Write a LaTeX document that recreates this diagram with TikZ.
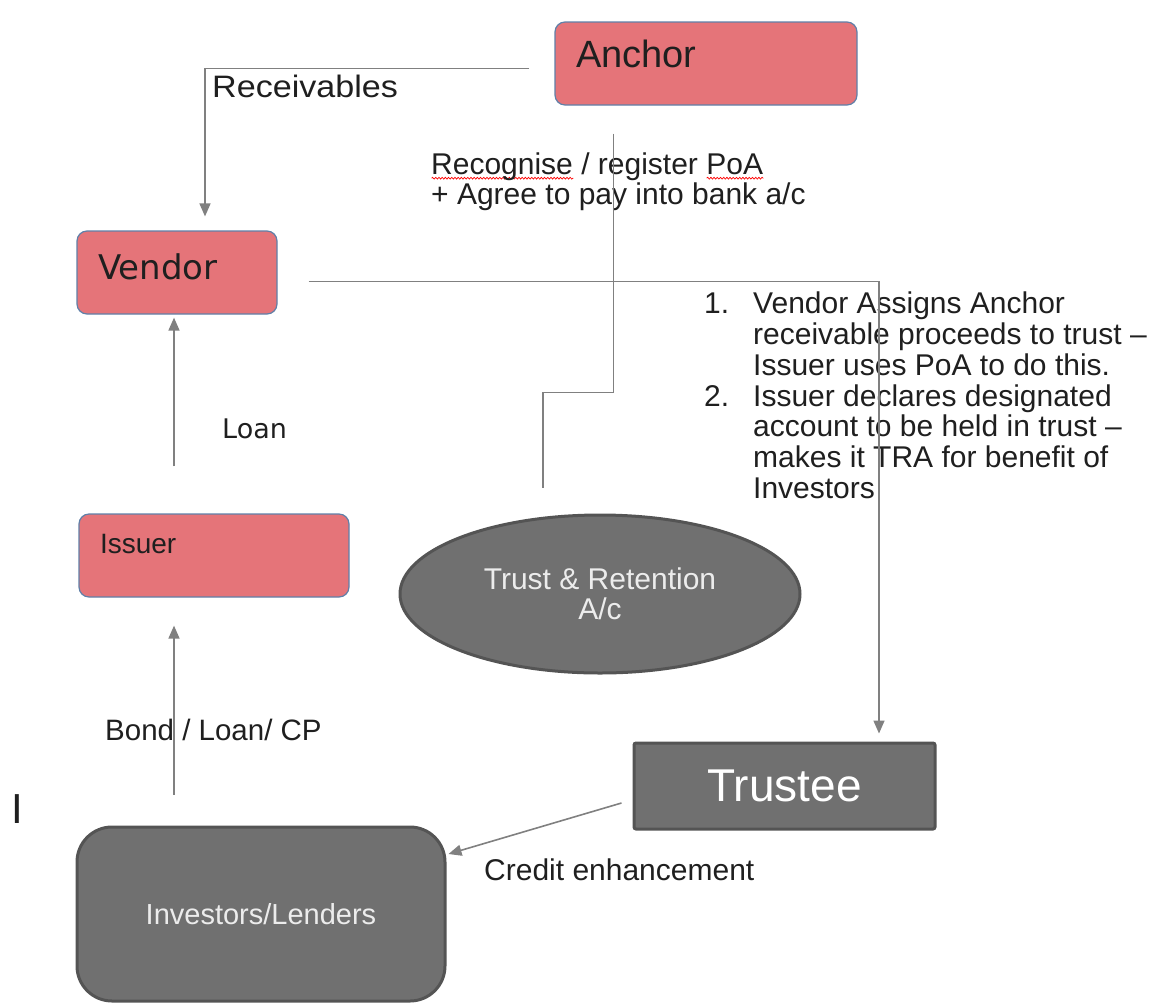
\documentclass[tikz,border=0pt]{standalone}
\usepackage{fontspec}
\setmainfont{Liberation Sans}
\newfontfamily\verdanafont{DejaVu Sans}
\newfontfamily\widesf[FakeStretch=1.1]{Liberation Sans}
\usetikzlibrary{arrows.meta,shapes.geometric,decorations.pathmorphing}
\definecolor{boxpink}{RGB}{229,116,121}
\definecolor{boxedge}{RGB}{96,128,168}
\definecolor{boxgray}{RGB}{112,112,112}
\definecolor{grayedge}{RGB}{84,84,84}
\definecolor{linkgray}{RGB}{128,128,128}
\definecolor{paletext}{RGB}{236,236,236}
\newsavebox{\wavebox}
\newcommand{\spellwave}[1]{\sbox{\wavebox}{#1}\rlap{\raisebox{-4.5pt}{\tikz[x=1pt,y=1pt]
  \draw[red, line width=0.7pt, decorate, decoration={snake, amplitude=0.9pt, segment length=3.2pt}]
  (0,0) -- (\the\wd\wavebox,0);}}\usebox{\wavebox}}
\begin{document}
\begin{tikzpicture}[x=1pt,y=-1pt,
    pinkbox/.style={draw=boxedge, line width=1.2pt, fill=boxpink, rounded corners=10pt,
      inner xsep=21pt, inner ysep=0pt, align=left, text=black!88},
    graybox/.style={draw=grayedge, line width=3pt, fill=boxgray, text=paletext},
    link/.style={draw=linkgray, line width=1.6pt},
    tip/.style={-{Triangle[length=13pt,width=11pt]}},
    lbl/.style={inner sep=0pt, text=black!88}]
  \useasboundingbox (0,0) rectangle (1152,1005);

  \node[pinkbox, text width=260pt, text height=45pt, text depth=38pt,
        font=\fontsize{38}{40}\selectfont] (anchor) at (706,63.5) {Anchor};
  \node[pinkbox, text width=158pt, text height=48pt, text depth=35pt,
        font=\verdanafont\fontsize{34}{36}\selectfont] (vendor) at (177,272.5) {Vendor};
  \node[pinkbox, text width=228pt, text height=39pt, text depth=44pt,
        font=\fontsize{28}{30}\selectfont] (issuer) at (214,555.5) {Issuer};
  \node[graybox, ellipse, minimum width=400pt, minimum height=158pt, align=center,
        font=\fontsize{30}{30}\selectfont] (trustac) at (600,594) {Trust \& Retention\\A/c};
  \node[graybox, rounded corners=2pt, minimum width=301pt, minimum height=86pt,
        font=\fontsize{46}{48}\selectfont, text=white] (trustee) at (784.5,786) {Trustee};
  \node[graybox, rounded corners=35pt, minimum width=368pt, minimum height=174pt,
        font=\fontsize{29}{30}\selectfont] (investors) at (261,914) {Investors/Lenders};

  \node[lbl, anchor=base west, font=\widesf\fontsize{31}{33}\selectfont] (receivables) at (212,97) {Receivables};
  \node[lbl, anchor=north west, align=left, font=\fontsize{30}{30}\selectfont] (recognise) at (431,153)
    {\spellwave{Recognise} / register \spellwave{PoA}\\+ Agree to pay into bank a/c};
  \node[lbl, anchor=north west, align=left, font=\fontsize{30}{30.7}\selectfont] (steps) at (704,292)
    {\makebox[49pt][l]{1.}Vendor Assigns Anchor\\
     \hspace*{49pt}receivable proceeds to trust –\\
     \hspace*{49pt}Issuer uses PoA to do this.\\
     \makebox[49pt][l]{2.}Issuer declares designated\\
     \hspace*{49pt}account to be held in trust –\\
     \hspace*{49pt}makes it TRA for benefit of\\
     \hspace*{49pt}Investors};
  \node[lbl, anchor=base west, font=\verdanafont\fontsize{27}{29}\selectfont] (loan) at (222,438) {Loan};
  \node[lbl, anchor=base west, font=\fontsize{29.5}{31}\selectfont] (bond) at (105,740) {Bond / Loan/ CP};
  \node[lbl, anchor=base west, font=\fontsize{30}{32}\selectfont] (credit) at (484,880) {Credit enhancement};
  \node[lbl, anchor=base west, font=\fontsize{42}{44}\selectfont] (stray) at (11,823) {I};

  \draw[link, tip] ([shift={(-25,5)}]anchor.west) -| ([shift={(28,-14)}]vendor.north);
  \draw[link] ([shift={(59,28)}]anchor.south west) -- ++(0,259) -| ([shift={(-57,-26)}]trustac.north);
  \draw[link, tip] ([shift={(31,9)}]vendor.east) -| ([shift={(94.5,-8)}]trustee.north);
  \draw[link, tip] ([shift={(-40,-47)}]issuer.north) -- ([shift={(-3,3)}]vendor.south);
  \draw[link, tip] ([shift={(-87,-31)}]investors.north) -- ([shift={(-40,28)}]issuer.south);
  \draw[link, tip] ([shift={(-11,17)}]trustee.west) -- ([shift={(2,-60)}]investors.east);
\end{tikzpicture}
\end{document}
